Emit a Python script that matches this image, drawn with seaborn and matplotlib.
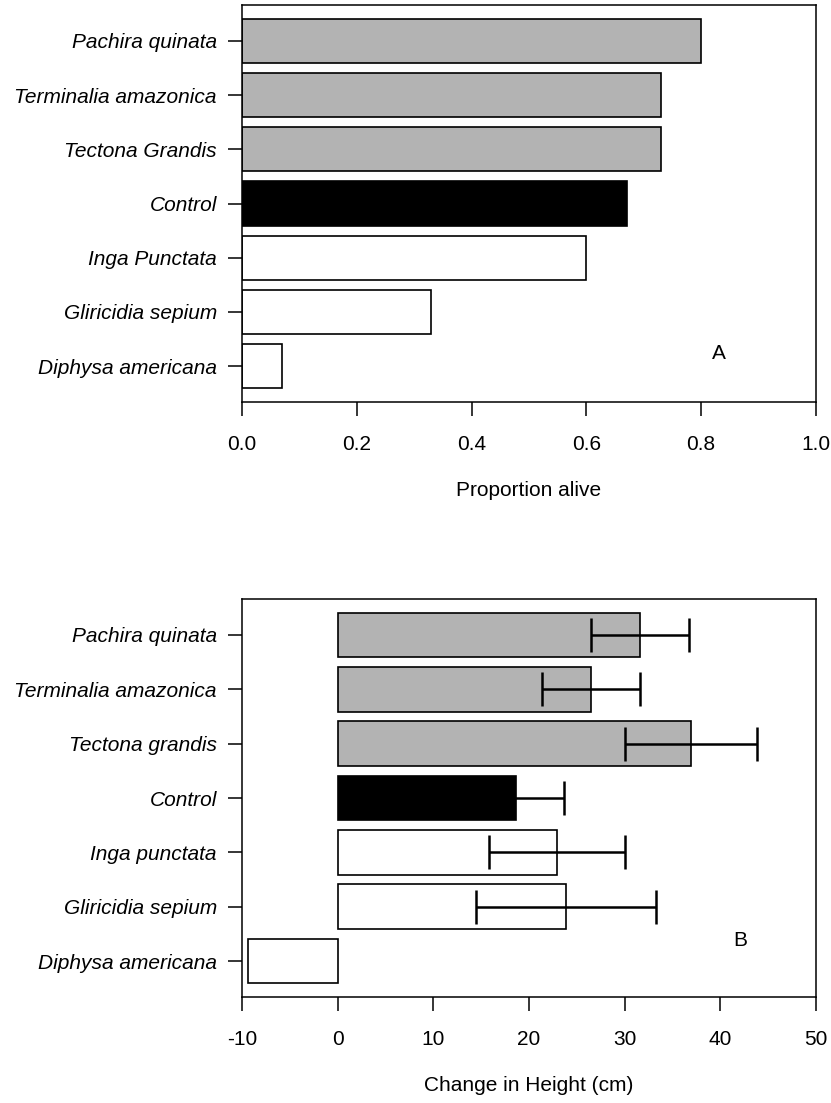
import numpy as np
import pandas as pd
import matplotlib
matplotlib.use("Agg")
import matplotlib.pyplot as plt
import seaborn as sns

# Panel A: proportion alive
species_a = ["Pachira quinata", "Terminalia amazonica", "Tectona Grandis", "Control",
             "Inga Punctata", "Gliricidia sepium", "Diphysa americana"]
alive = [0.80, 0.73, 0.73, 0.67, 0.60, 0.33, 0.07]

# Panel B: change in height (cm), mean and standard error
species_b = ["Pachira quinata", "Terminalia amazonica", "Tectona grandis", "Control",
             "Inga punctata", "Gliricidia sepium", "Diphysa americana"]
height_change = [31.6, 26.5, 36.9, 18.6, 22.9, 23.9, -9.4]
height_se = [5.1, 5.1, 6.9, 5.1, 7.1, 9.4, np.nan]

# fill by group: tree species, control, legumes
groups = ["tree", "tree", "tree", "control", "legume", "legume", "legume"]
group_colors = {"tree": "#b3b3b3", "control": "#000000", "legume": "#ffffff"}

sns.set_style("ticks")
plt.rcParams["font.family"] = ["Liberation Sans", "DejaVu Sans"]
plt.rcParams["font.size"] = 15
plt.rcParams["axes.unicode_minus"] = False
plt.rcParams["text.color"] = "black"
plt.rcParams["axes.labelcolor"] = "black"
plt.rcParams["xtick.color"] = "black"
plt.rcParams["ytick.color"] = "black"

fig = plt.figure(figsize=(8.31, 11.03), dpi=100)
ax_a = fig.add_axes([0.2912, 0.6355, 0.6907, 0.3600])
ax_b = fig.add_axes([0.2912, 0.0961, 0.6907, 0.3608])

df_a = pd.DataFrame({"species": species_a, "value": alive, "group": groups})
df_b = pd.DataFrame({"species": species_b, "value": height_change,
                     "se": height_se, "group": groups})


def draw_panel(ax, df, xlim, xticks, xlabel, letter, letter_pos):
    sns.barplot(data=df, y="species", x="value", hue="group", palette=group_colors,
                order=df["species"], hue_order=["tree", "control", "legume"],
                dodge=False, width=0.82, edgecolor="black", linewidth=1.2,
                legend=False, ax=ax)
    ax.set_xlim(*xlim)
    ax.set_ylim(6.66, -0.66)
    ax.set_xticks(xticks)
    ax.set_yticks(range(len(df)))
    ax.set_yticklabels(df["species"], fontstyle="italic")
    ax.set_ylabel("")
    ax.set_xlabel(xlabel, labelpad=19)
    ax.tick_params(axis="x", direction="out", length=10, width=1.1, pad=14,
                   labelsize=15)
    ax.tick_params(axis="y", direction="out", length=10, width=1.1, pad=8,
                   labelsize=15)
    for s in ax.spines.values():
        s.set_visible(True)
        s.set_linewidth(1.1)
        s.set_color("black")
    ax.text(letter_pos[0], letter_pos[1], letter, transform=ax.transAxes,
            fontsize=15, ha="center", va="center")


draw_panel(ax_a, df_a, (0, 1.0), np.arange(0, 1.01, 0.2), "Proportion alive",
           "A", (0.831, 0.122))
ax_a.set_xticklabels([f"{t:.1f}" for t in np.arange(0, 1.01, 0.2)])

draw_panel(ax_b, df_b, (-10, 50), np.arange(-10, 51, 10), "Change in Height (cm)",
           "B", (0.868, 0.143))

ax_b.errorbar(df_b["value"], np.arange(len(df_b)), xerr=df_b["se"], fmt="none",
              ecolor="black", elinewidth=1.8, capsize=12, capthick=1.8, zorder=5)

fig.savefig("out.png", dpi=100)
